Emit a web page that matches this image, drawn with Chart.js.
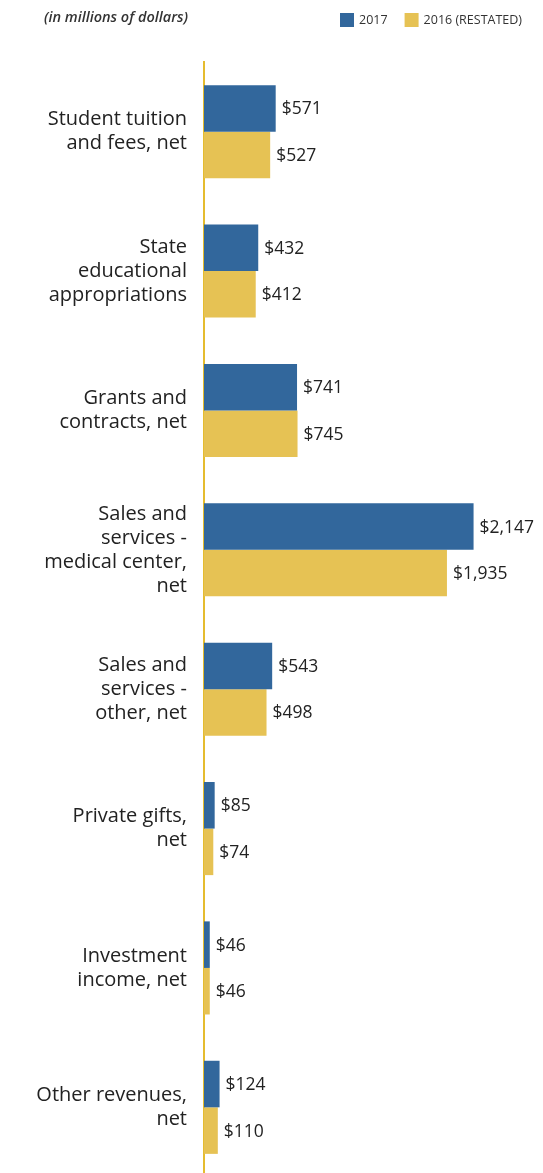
<!DOCTYPE html>
<html>
<head>
<meta charset="utf-8">
<script src="https://cdn.jsdelivr.net/npm/chart.js@4"></script>
<style>
  html, body { margin: 0; padding: 0; background: #fff; overflow: hidden; }
  #wrap { position: relative; width: 543px; height: 1177px; }
</style>
</head>
<body>
<div id="wrap"><canvas id="rev"></canvas></div>
<script>
// revenue categories (multi-line labels)
const categories = [
	['Student tuition', 'and fees, net'],
	['State', 'educational', 'appropriations'],
	['Grants and', 'contracts, net'],
	['Sales and', 'services -', 'medical center,', 'net'],
	['Sales and', 'services -', 'other, net'],
	['Private gifts,', 'net'],
	['Investment', 'income, net'],
	['Other revenues,', 'net']
];
const values2017 = [571, 432, 741, 2147, 543, 85, 46, 124];
const values2016 = [527, 412, 745, 1935, 498, 74, 46, 110];
const seriesNames = ['2017', '2016 (RESTATED)'];
const unitNote = '(in millions of dollars)';

const BLUE = '#32679C';
const GOLD = '#E6C254';
const FONT = '"Open Sans", sans-serif';

// value labels + header + legend
const extras = {
	id: 'extras',
	afterDatasetsDraw(chart) {
		const c = chart.ctx;
		c.save();
		c.font = '17.5px ' + FONT;
		c.fillStyle = '#222';
		c.textBaseline = 'middle';
		c.textAlign = 'left';
		chart.data.datasets.forEach((ds, i) => {
			chart.getDatasetMeta(i).data.forEach((bar, j) => {
				c.fillText('$' + ds.data[j].toLocaleString('en-US'), bar.x + 6, bar.y + 1);
			});
		});

		// header note
		c.font = 'italic 600 14.5px ' + FONT;
		c.fillStyle = '#333';
		c.fillText(unitNote, 44, 18);

		// legend
		c.font = '12.5px ' + FONT;
		let x = 340;
		chart.data.datasets.forEach(ds => {
			c.fillStyle = ds.backgroundColor;
			c.fillRect(x, 13, 14, 14);
			c.fillStyle = '#333';
			c.fillText(ds.label, x + 19, 20);
			x += 19 + c.measureText(ds.label).width + 17;
		});
		c.restore();
	}
};

new Chart(document.getElementById('rev'), {
	type: 'bar',
	data: {
		labels: categories,
		datasets: [
			{ label: seriesNames[0], data: values2017, backgroundColor: BLUE },
			{ label: seriesNames[1], data: values2016, backgroundColor: GOLD }
		]
	},
	options: {
		indexAxis: 'y',
		responsive: true,
		maintainAspectRatio: false,
		animation: false,
		datasets: { bar: { categoryPercentage: 0.668, barPercentage: 1.0 } },
		layout: { padding: { top: 62, left: 0, right: 0, bottom: 0 } },
		plugins: {
			legend: { display: false },
			tooltip: { enabled: false }
		},
		scales: {
			x: { display: false, min: 0, max: 2700 },
			y: {
				grid: { display: false },
				border: { display: true, color: '#E5BC2F', width: 2 },
				ticks: {
					color: '#222',
					padding: 9,
					font: { family: FONT, size: 20, lineHeight: 1.2 }
				},
				afterFit(scale) {
					scale.width = 204;
					scale.paddingTop = 0;
					scale.paddingBottom = 0;
				}
			}
		}
	},
	plugins: [extras]
});
</script>
</body>
</html>
